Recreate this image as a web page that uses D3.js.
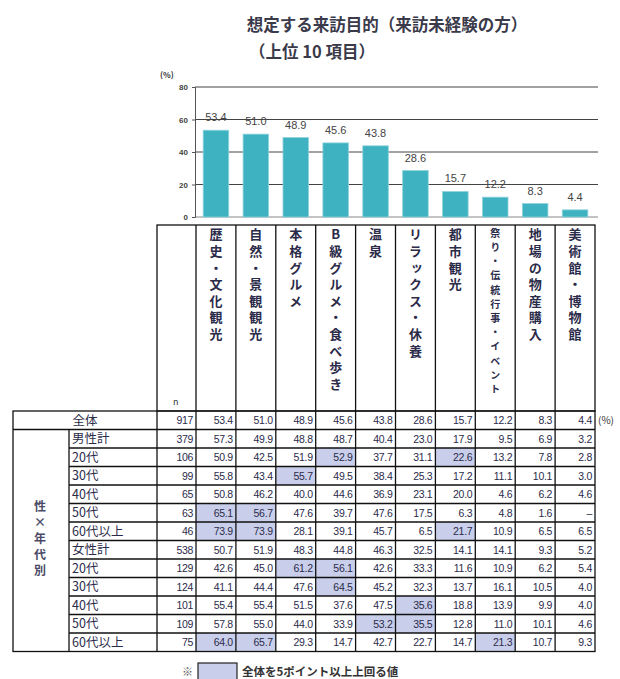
<!DOCTYPE html>
<html>
<head>
<meta charset="utf-8">
<script src="https://cdn.jsdelivr.net/npm/d3@7"></script>
<style>
  body { margin: 0; background: #fff; }
  svg { display: block; }
  text { font-family: "Noto Sans CJK JP", "Noto Sans", sans-serif; }
  .num { font-family: "Liberation Sans", Arial, sans-serif; }
  .vert { writing-mode: vertical-rl; text-orientation: upright; }
</style>
</head>
<body>
<svg id="chart"></svg>
<script>
'use strict';

// 上位10項目
var categories = ['歴史・文化観光', '自然・景観観光', '本格グルメ', 'B級グルメ・食べ歩き', '温泉',
  'リラックス・休養', '都市観光', '祭り・伝統行事・イベント', '地場の物産購入', '美術館・博物館']
var overall = [53.4, 51.0, 48.9, 45.6, 43.8, 28.6, 15.7, 12.2, 8.3, 4.4]
var yTicks = [0, 20, 40, 60, 80]

var rowLabels = ['全体', '男性計', '20代', '30代', '40代', '50代', '60代以上',
  '女性計', '20代', '30代', '40代', '50代', '60代以上']
var rowN = [917, 379, 106, 99, 65, 63, 46, 538, 129, 124, 101, 109, 75]
var rowValues = [
  [53.4, 51.0, 48.9, 45.6, 43.8, 28.6, 15.7, 12.2, 8.3, 4.4],
  [57.3, 49.9, 48.8, 48.7, 40.4, 23.0, 17.9, 9.5, 6.9, 3.2],
  [50.9, 42.5, 51.9, 52.9, 37.7, 31.1, 22.6, 13.2, 7.8, 2.8],
  [55.8, 43.4, 55.7, 49.5, 38.4, 25.3, 17.2, 11.1, 10.1, 3.0],
  [50.8, 46.2, 40.0, 44.6, 36.9, 23.1, 20.0, 4.6, 6.2, 4.6],
  [65.1, 56.7, 47.6, 39.7, 47.6, 17.5, 6.3, 4.8, 1.6, null],
  [73.9, 73.9, 28.1, 39.1, 45.7, 6.5, 21.7, 10.9, 6.5, 6.5],
  [50.7, 51.9, 48.3, 44.8, 46.3, 32.5, 14.1, 14.1, 9.3, 5.2],
  [42.6, 45.0, 61.2, 56.1, 42.6, 33.3, 11.6, 10.9, 6.2, 5.4],
  [41.1, 44.4, 47.6, 64.5, 45.2, 32.3, 13.7, 16.1, 10.5, 4.0],
  [55.4, 55.4, 51.5, 37.6, 47.5, 35.6, 18.8, 13.9, 9.9, 4.0],
  [57.8, 55.0, 44.0, 33.9, 53.2, 35.5, 12.8, 11.0, 10.1, 4.6],
  [64.0, 65.7, 29.3, 14.7, 42.7, 22.7, 14.7, 21.3, 10.7, 9.3]
]
var sideLabel = '性×年代別'

var width = 620, height = 679
var barColor = '#3fb2c2', hlColor = '#c9cfea', ink = '#2b2b4a', line = '#111'

var svg = d3.select('#chart').attr('width', width).attr('height', height)

// title
svg.append('text').attr('x', 387).attr('y', 31).attr('text-anchor', 'middle')
  .style('font-size', '16.5px').style('font-weight', 'bold').attr('fill', '#3a3a4a')
  .text('想定する来訪目的（来訪未経験の方）')
svg.append('text').attr('x', 312).attr('y', 58).attr('text-anchor', 'middle')
  .style('font-size', '16.5px').style('font-weight', 'bold').attr('fill', '#3a3a4a')
  .text('（上位 10 項目）')

var xScale = d3.scaleBand().domain(categories).range([196, 595]).padding(0)
var yScale = d3.scaleLinear().domain([0, 80]).range([217, 87])
var barW = xScale.bandwidth() * 0.64

svg.append('text').attr('x', 160).attr('y', 78)
  .style('font-size', '8px').style('font-weight', 'bold').attr('fill', '#333').text('(%)')

// grid
svg.append('g').selectAll('line').data(yTicks).enter().append('line')
  .attr('x1', 195).attr('x2', 598)
  .attr('y1', function(d) { return yScale(d) })
  .attr('y2', function(d) { return yScale(d) })
  .attr('stroke', function(d) { return d === 0 ? '#888' : '#444' })
  .attr('stroke-width', 1)

var yAxis = d3.axisLeft(yScale).tickValues(yTicks).tickSize(3).tickPadding(4)
var yAxisG = svg.append('g').attr('transform', 'translate(195,0)').call(yAxis)
yAxisG.select('.domain').attr('stroke', '#555')
yAxisG.selectAll('.tick line').attr('stroke', '#555')
yAxisG.selectAll('text').style('font-size', '8px').style('font-weight', 'bold').attr('fill', '#444')
  .style('font-family', 'Liberation Sans, Arial, sans-serif')

svg.append('g').selectAll('rect').data(overall).enter().append('rect')
  .attr('x', function(d, i) { return xScale(categories[i]) + (xScale.bandwidth() - barW) / 2 })
  .attr('y', function(d) { return yScale(d) })
  .attr('width', barW)
  .attr('height', function(d) { return yScale(0) - yScale(d) })
  .attr('fill', barColor)
  .attr('stroke', '#8fd3dc').attr('stroke-width', 0.8)

svg.append('g').selectAll('text').data(overall).enter().append('text')
  .attr('class', 'num')
  .attr('x', function(d, i) { return xScale(categories[i]) + xScale.bandwidth() / 2 })
  .attr('y', function(d) { return yScale(d) - 9 })
  .attr('text-anchor', 'middle')
  .style('font-size', '11px').attr('fill', '#444')
  .text(function(d) { return d.toFixed(1) })

// header box with vertical labels
var headTop = 225, tableTop = 411, rowH = 18.5
var header = svg.append('g')
header.append('rect').attr('x', 157).attr('y', headTop).attr('width', 595 - 157).attr('height', tableTop - headTop)
  .attr('fill', 'none').attr('stroke', line).attr('stroke-width', 1.3)
header.selectAll('line').data(categories).enter().append('line')
  .attr('x1', function(d) { return xScale(d) }).attr('x2', function(d) { return xScale(d) })
  .attr('y1', headTop).attr('y2', tableTop)
  .attr('stroke', line).attr('stroke-width', 1.3)
header.append('text').attr('x', 173).attr('y', 405).style('font-size', '9px').attr('fill', '#333').text('n')

header.selectAll('.cat').data(categories).enter().append('text')
  .attr('class', 'vert')
  .attr('x', function(d) { return xScale(d) + xScale.bandwidth() / 2 })
  .attr('y', 228)
  .style('font-size', function(d) { return d.length > 10 ? '10px' : '13px' })
  .style('letter-spacing', function(d) { return d.length > 10 ? '4.2px' : '3.6px' })
  .style('font-weight', 'bold').attr('fill', ink)
  .text(function(d) { return d })

// table
var table = svg.append('g')
var nRows = rowLabels.length
var tableBottom = tableTop + nRows * rowH
var rowY = function(i) { return tableTop + i * rowH }

rowValues.forEach(function(vals, r) {
  vals.forEach(function(v, c) {
    if (r > 0 && v !== null && v - overall[c] >= 5) {
      table.append('rect').attr('x', xScale(categories[c])).attr('y', rowY(r))
        .attr('width', xScale.bandwidth()).attr('height', rowH).attr('fill', hlColor)
    }
  })
})

// borders
table.append('rect').attr('x', 13).attr('y', tableTop).attr('width', 595 - 13).attr('height', nRows * rowH)
  .attr('fill', 'none').attr('stroke', line).attr('stroke-width', 1.3)
d3.range(1, nRows).forEach(function(r) {
  table.append('line').attr('x1', r === 1 ? 13 : 69).attr('x2', 595)
    .attr('y1', rowY(r)).attr('y2', rowY(r)).attr('stroke', line).attr('stroke-width', 1.3)
})
var colXs = [157].concat(categories.map(function(d) { return xScale(d) }))
colXs.forEach(function(x) {
  table.append('line').attr('x1', x).attr('x2', x).attr('y1', tableTop).attr('y2', tableBottom)
    .attr('stroke', line).attr('stroke-width', 1.3)
})
table.append('line').attr('x1', 69).attr('x2', 69).attr('y1', rowY(1)).attr('y2', tableBottom)
  .attr('stroke', line).attr('stroke-width', 1.3)

// row labels
table.selectAll('.rl').data(rowLabels).enter().append('text')
  .attr('class', 'rl')
  .attr('x', function(d, i) { return i === 0 ? 85 : 72 })
  .attr('y', function(d, i) { return rowY(i) + rowH / 2 + 4.5 })
  .attr('text-anchor', function(d, i) { return i === 0 ? 'middle' : 'start' })
  .style('font-size', '12.5px').attr('fill', ink)
  .text(function(d) { return d })

var sideMid = (rowY(1) + tableBottom) / 2
table.append('text')
  .attr('class', 'vert')
  .attr('x', 40)
  .attr('y', sideMid)
  .attr('text-anchor', 'middle')
  .style('font-size', '12px').style('letter-spacing', '4px').style('font-weight', 'bold').attr('fill', '#4a4a66')
  .text(sideLabel)

table.selectAll('.n').data(rowN).enter().append('text')
  .attr('class', 'num')
  .attr('x', 193)
  .attr('y', function(d, i) { return rowY(i) + rowH / 2 + 4 })
  .attr('text-anchor', 'end')
  .style('font-size', '10.5px').style('letter-spacing', '-0.3px').attr('fill', ink)
  .text(function(d) { return d })

rowValues.forEach(function(vals, r) {
  table.append('g').selectAll('text').data(vals).enter().append('text')
    .attr('class', 'num')
    .attr('x', function(d, c) { return xScale(categories[c]) + xScale.bandwidth() - 3 })
    .attr('y', rowY(r) + rowH / 2 + 4)
    .attr('text-anchor', 'end')
    .style('font-size', '10.5px').style('letter-spacing', '-0.3px').attr('fill', ink)
    .text(function(d) { return d === null ? '–' : d.toFixed(1) })
})

table.append('text').attr('x', 598).attr('y', rowY(0) + rowH / 2 + 4)
  .style('font-size', '10px').attr('fill', '#333').text('(%)')

// footnote
svg.append('text').attr('x', 182).attr('y', 676).style('font-size', '11px').attr('fill', '#555').text('※')
svg.append('rect').attr('x', 198).attr('y', 663).attr('width', 39).attr('height', 18)
  .attr('fill', hlColor).attr('stroke', '#222').attr('stroke-width', 1.2)
svg.append('text').attr('x', 242).attr('y', 676).style('font-size', '11.5px').style('font-weight', 'bold')
  .attr('fill', '#333').text('全体を5ポイント以上上回る値')
</script>
</body>
</html>
